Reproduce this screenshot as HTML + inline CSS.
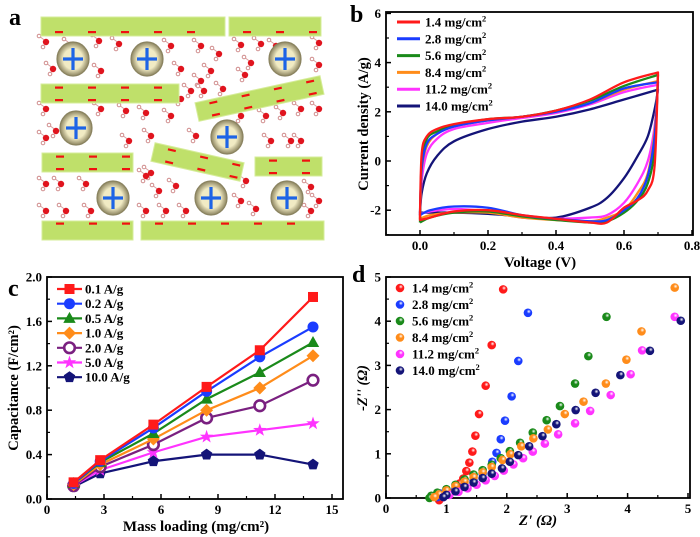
<!DOCTYPE html>
<html><head><meta charset="utf-8"><style>
body{margin:0;background:#fff;}
svg{display:block;font-family:"Liberation Serif",serif;font-weight:bold;}
</style></head><body>
<svg id="fig" width="700" height="537" viewBox="0 0 700 537" xmlns="http://www.w3.org/2000/svg">
<defs>
<radialGradient id="ion" cx="0.5" cy="0.5" r="0.5"><stop offset="0.6" stop-color="#f1ebc4"/><stop offset="1" stop-color="#8c8460"/></radialGradient>
</defs>
<g id="pa"></g>
<g id="pb"></g>
<g id="pc"></g>
<g id="pd"></g>
</svg>
<script>
// ===== Panel b data =====
const cvLabels=["1.4 mg/cm","2.8 mg/cm","5.6 mg/cm","8.4 mg/cm","11.2 mg/cm","14.0 mg/cm"];
const cvColors=["#ff1a1a","#1a3cff","#1a8a1a","#ff8c1a","#ff33ff","#141478"];
const cvVf=[0,0.005,0.02,0.05,0.1,0.2,0.3,0.4,0.5,0.6,0.7];
const cvVr=[0.7,0.69,0.67,0.64,0.6,0.55,0.5,0.4,0.3,0.2,0.1,0.03,0];
const cvF0=[-2.1,0.3,1.0,1.3,1.5,1.7,1.8,2.05,2.5,3.2,3.6];
const cvR0=[3.6,-0.2,-1.2,-1.6,-1.9,-2.5,-2.5,-2.35,-2.2,-2.0,-2.05,-2.3,-2.4];
const cvF1=[-2.1,-0.3,0.7,1.1,1.4,1.65,1.8,2.0,2.35,2.95,3.2];
const cvR1=[3.2,1.0,-0.6,-1.5,-2.0,-2.4,-2.45,-2.35,-2.2,-1.9,-1.85,-2.0,-2.2];
const cvF2=[-2.5,-0.1,0.9,1.2,1.45,1.7,1.8,2.05,2.45,3.05,3.5];
const cvR2=[3.5,0.5,-0.9,-1.6,-2.1,-2.45,-2.5,-2.4,-2.25,-2.05,-2.1,-2.3,-2.5];
const cvF3=[-2.3,-0.4,0.6,1.1,1.4,1.65,1.8,2.0,2.35,2.9,3.25];
const cvR3=[3.25,1.2,-0.5,-1.3,-2.0,-2.3,-2.45,-2.4,-2.3,-2.1,-2.1,-2.2,-2.35];
const cvF4=[-2.2,-0.8,0.3,0.9,1.3,1.55,1.75,1.95,2.3,2.8,3.1];
const cvR4=[3.1,1.4,0,-0.9,-1.7,-2.2,-2.3,-2.35,-2.3,-2.05,-1.95,-2.05,-2.15];
const cvF5=[-2.1,-1.3,-0.5,0.2,0.8,1.3,1.6,1.8,2.1,2.5,2.9];
const cvR5=[2.9,2.1,1.0,0.2,-0.7,-1.5,-1.9,-2.3,-2.25,-2.15,-2.1,-2.1,-2.1];
const cvXTicks=[0.0,0.2,0.4,0.6,0.8];
const cvYTicks=[-2,0,2,4,6];
// ===== Panel c data =====
const capX=[1.4,2.8,5.6,8.4,11.2,14.0];
const capLabels=["0.1 A/g","0.2 A/g","0.5 A/g","1.0  A/g","2.0  A/g","5.0  A/g","10.0 A/g"];
const capColors=["#ff1a1a","#1a3cff","#1a8a1a","#ff8c1a","#7a2080","#ff33ff","#141478"];
const capMarkers=["square","circle","triangle","diamond","ocircle","star","pentagon"];
const cap0=[0.15,0.35,0.67,1.01,1.34,1.82];
const cap1=[0.14,0.34,0.64,0.97,1.28,1.55];
const cap2=[0.14,0.33,0.59,0.90,1.14,1.41];
const cap3=[0.13,0.31,0.54,0.80,1.00,1.29];
const cap4=[0.12,0.29,0.49,0.73,0.84,1.07];
const cap5=[0.12,0.26,0.42,0.56,0.62,0.68];
const cap6=[0.11,0.23,0.34,0.40,0.40,0.31];
const capXTicks=[0,3,6,9,12,15];
const capYTicks=[0.0,0.4,0.8,1.2,1.6,2.0];
// ===== Panel d data =====
const eisLabels=["1.4 mg/cm","2.8 mg/cm","5.6 mg/cm","8.4 mg/cm","11.2 mg/cm","14.0 mg/cm"];
const eisColors=["#ff1a1a","#1a3cff","#1a8a1a","#ff8c1a","#ff33ff","#141478"];
const eisX0=[1.94,1.75,1.65,1.54,1.48,1.43,1.38,1.33,1.28,1.22,1.15,1.05,0.95,0.9,0.88];
const eisY0=[4.72,3.46,2.54,1.90,1.41,1.05,0.80,0.61,0.44,0.33,0.18,0.12,0.07,0.02,-0.05];
const eisX1=[2.35,2.19,2.08,1.97,1.90,1.83,1.76,1.6,1.45,1.3,1.15,1.0,0.9,0.85];
const eisY1=[4.19,3.10,2.30,1.75,1.33,1.02,0.82,0.55,0.4,0.3,0.22,0.15,0.1,0.02];
const eisX2=[3.65,3.35,3.13,2.88,2.66,2.43,2.22,2.05,1.90,1.75,1.6,1.45,1.3,1.15,1.0,0.85,0.75,0.72];
const eisY2=[4.10,3.21,2.59,2.08,1.76,1.48,1.25,1.06,0.90,0.75,0.63,0.53,0.42,0.3,0.2,0.12,0.05,0.0];
const eisX3=[4.78,4.23,3.98,3.64,3.27,2.96,2.68,2.44,2.24,2.06,1.93,1.75,1.6,1.45,1.3,1.15,1.0,0.88,0.8];
const eisY3=[4.76,3.77,3.13,2.59,2.18,1.90,1.55,1.35,1.17,0.99,0.86,0.7,0.58,0.47,0.37,0.27,0.17,0.08,0.02];
const eisX4=[4.78,4.24,4.05,3.72,3.38,3.13,2.85,2.63,2.43,2.27,2.11,1.95,1.8,1.65,1.5,1.35,1.2,1.05,0.95];
const eisY4=[4.10,3.34,2.80,2.33,1.97,1.69,1.44,1.23,1.05,0.90,0.76,0.62,0.5,0.4,0.3,0.22,0.14,0.07,0.02];
const eisX5=[4.88,4.37,3.88,3.47,3.14,2.82,2.59,2.37,2.19,2.05,1.92,1.75,1.6,1.45,1.3,1.15,1.0,0.95];
const eisY5=[4.01,3.33,2.78,2.38,1.99,1.67,1.40,1.17,0.97,0.82,0.67,0.55,0.45,0.35,0.25,0.15,0.07,0.02];
const eisXTicks=[0,1,2,3,4,5];
const eisYTicks=[0,1,2,3,4,5];

const NS="http://www.w3.org/2000/svg";
function mk(parent,tag,attrs,name,txt){const e=document.createElementNS(NS,tag);for(const k in attrs)e.setAttribute(k,attrs[k]);


if(txt!==undefined)e.textContent=txt;parent.appendChild(e);return e;}
function supText(parent,x,y,base,sup,size,anchor,name){const t=mk(parent,'text',{x:x,y:y,'font-size':size,'text-anchor':anchor||'start'},name);
t.appendChild(document.createTextNode(base));const s=document.createElementNS(NS,'tspan');s.setAttribute('font-size',size*0.65);s.setAttribute('dy',-size*0.4);s.textContent=sup;t.appendChild(s);return t;}
function smoothSeg(pts){let d="";for(let i=0;i<pts.length-1;i++){const p0=pts[Math.max(i-1,0)],p1=pts[i],p2=pts[i+1],p3=pts[Math.min(i+2,pts.length-1)];
const c1=[p1[0]+(p2[0]-p0[0])/6,p1[1]+(p2[1]-p0[1])/6],c2=[p2[0]-(p3[0]-p1[0])/6,p2[1]-(p3[1]-p1[1])/6];d+=" C"+c1+" "+c2+" "+p2;}return d;}

// ===== Panel a =====
(function(){
const g=document.getElementById('pa');
mk(g,'text',{x:9,y:25,'font-size':24},'panel-a-label','a');
const waters=[[45,41],[52,68],[70,44],[98,40],[118,43],[100,70],[170,45],[180,68],[200,45],[210,70],[218,53],[240,44],[250,62],[260,43],[275,45],[318,42],[318,64],[190,90],[203,90],[200,80],[222,88],[244,74],[45,108],[55,130],[100,108],[125,110],[145,112],[170,115],[180,98],[195,135],[150,135],[128,140],[45,137],[240,115],[265,115],[282,112],[300,108],[318,108],[270,140],[290,140],[300,140],[150,172],[145,175],[175,185],[158,190],[245,180],[310,186],[45,183],[60,183],[85,183],[45,210],[65,210],[90,210],[145,210],[165,210],[185,210],[240,200],[255,208],[310,210],[318,200]];
waters.forEach(p=>{const w=mk(g,'g',{},'water-molecule');
mk(w,'line',{x1:p[0]-6,y1:p[1]-5,x2:p[0]+2,y2:p[1]+1,stroke:'#d9a0a0','stroke-width':1},'water-bond');
mk(w,'circle',{cx:p[0]-6,cy:p[1]-5,r:1.8,fill:'#fff',stroke:'#d08c8c','stroke-width':1},'hydrogen-atom');
mk(w,'circle',{cx:p[0]-2,cy:p[1]+6,r:1.8,fill:'#fff',stroke:'#d08c8c','stroke-width':1},'hydrogen-atom');
mk(w,'circle',{cx:p[0]+1,cy:p[1]+1,r:3.2,fill:'#e0141e'},'oxygen-atom');});
const bars=[[41,17,184,19,0],[229,17,92,19,0],[41,84,138,19,0],[42,153,91,19,0],[255,157,67,19,0],[42,221,91,19,0],[141,221,183,19,0]];
function dashes(bg,x,y,w,h,rows){rows.forEach(ry=>{for(let dx=14;dx<w-5;dx+=33){mk(bg,'rect',{x:x+dx,y:y+ry,width:8,height:2.2,fill:'#f01010'},'negative-charge');}});}
bars.forEach((b,i)=>{const bg=mk(g,'g',{},'graphene-sheet');mk(bg,'rect',{x:b[0],y:b[1],width:b[2],height:b[3],fill:'#bfe06a',stroke:'#d6ec9a','stroke-width':1},'sheet-body');
dashes(bg,b[0],b[1],b[2],b[3],i<2?[14]:(i>=5?[1.5]:[2.5,15]));});
[[197,112,322,85],[153,152,242,172]].forEach(t=>{const ang=Math.atan2(t[3]-t[1],t[2]-t[0])*180/Math.PI,len=Math.hypot(t[2]-t[0],t[3]-t[1]);
const bg=mk(g,'g',{transform:`translate(${t[0]},${t[1]}) rotate(${ang})`},'tilted-graphene-sheet');
mk(bg,'rect',{x:0,y:-9.5,width:len,height:19,fill:'#bfe06a',stroke:'#d6ec9a','stroke-width':1},'sheet-body');dashes(bg,0,-9.5,len,19,[2.5,15]);});
const ions=[[73,59],[147,59],[285,59],[76,128],[227,137],[113,198],[211,198],[287,198]];
ions.forEach(p=>{const ig=mk(g,'g',{},'cation');mk(ig,'ellipse',{cx:p[0],cy:p[1],rx:16,ry:17,fill:'url(#ion)',stroke:'#8a8360','stroke-width':1.2},'cation-sphere');
mk(ig,'rect',{x:p[0]-10,y:p[1]-1.6,width:20,height:3.2,fill:'#1e64e6'},'plus-h');mk(ig,'rect',{x:p[0]-1.6,y:p[1]-11,width:3.2,height:22,fill:'#1e64e6'},'plus-v');});
})();

function axes(g,L,T,R,B,xt,yt,fx,fy,xfmt,yfmt,xminor,yminor,pre){
mk(g,'rect',{x:L,y:T,width:R-L,height:B-T,fill:'none',stroke:'#000','stroke-width':1.8},pre+'-plot-frame');
xt.forEach(v=>{const x=fx(v);mk(g,'line',{x1:x,y1:B,x2:x,y2:B-5,stroke:'#000','stroke-width':1.5},pre+'-x-tick');
mk(g,'text',{x:x,y:B+15,'font-size':13,'text-anchor':'middle'},pre+'-x-tick-label',xfmt(v));});
xminor.forEach(v=>{const x=fx(v);mk(g,'line',{x1:x,y1:B,x2:x,y2:B-3,stroke:'#000','stroke-width':1.2},pre+'-x-minor-tick');});
yt.forEach(v=>{const y=fy(v);mk(g,'line',{x1:L,y1:y,x2:L+5,y2:y,stroke:'#000','stroke-width':1.5},pre+'-y-tick');
mk(g,'text',{x:L-5,y:y+4.5,'font-size':13,'text-anchor':'end'},pre+'-y-tick-label',yfmt(v));});
yminor.forEach(v=>{const y=fy(v);mk(g,'line',{x1:L,y1:y,x2:L+3,y2:y,stroke:'#000','stroke-width':1.2},pre+'-y-minor-tick');});
}

// ===== Panel b =====
(function(){
const g=document.getElementById('pb');
const L=386,R=693,T=12,B=235;const fx=v=>420+v*340,fy=v=>161-v*24.6;
mk(g,'text',{x:350,y:22,'font-size':24},'panel-b-label','b');
axes(g,L,T,R,B,cvXTicks,cvYTicks,fx,fy,v=>v.toFixed(1),v=>String(v),[-0.1,0.1,0.3,0.5,0.7],[-3,-1,1,3,5],'cv');
const F=[cvF0,cvF1,cvF2,cvF3,cvF4,cvF5],Rr=[cvR0,cvR1,cvR2,cvR3,cvR4,cvR5];
for(let s=5;s>=0;s--){const pf=cvVf.map((v,i)=>[fx(v),fy(F[s][i])]);const pr=cvVr.map((v,i)=>[fx(v),fy(Rr[s][i])]);
const d="M"+pf[0]+smoothSeg(pf)+smoothSeg(pr)+" L"+pf[0];
mk(g,'path',{d:d,fill:'none',stroke:cvColors[s],'stroke-width':2.3,'stroke-linejoin':'round'},'cv-curve-'+cvLabels[s].split(' ')[0]);}
cvLabels.forEach((l,i)=>{const y=22+i*16.8;mk(g,'line',{x1:397,y1:y,x2:420,y2:y,stroke:cvColors[i],'stroke-width':3},'legend-line');
supText(g,425,y+4.5,l,'2',13,'start','legend-entry');});
mk(g,'text',{x:0,y:0,'font-size':14.5,'text-anchor':'middle',transform:'translate(368,124) rotate(-90)'},'y-axis-title','Current density (A/g)');
mk(g,'text',{x:540,y:267,'font-size':15,'text-anchor':'middle'},'x-axis-title','Voltage (V)');
})();

// ===== Panel c =====
(function(){
const g=document.getElementById('pc');
const L=47,R=343,T=277,B=499;const fx=v=>47+v*19,fy=v=>499-v*111;
mk(g,'text',{x:8,y:296,'font-size':24},'panel-c-label','c');
axes(g,L,T,R,B,capXTicks,capYTicks,fx,fy,v=>String(v),v=>v.toFixed(1),[1.5,4.5,7.5,10.5,13.5],[0.2,0.6,1.0,1.4,1.8],'cap');
const S=[cap0,cap1,cap2,cap3,cap4,cap5,cap6];
function marker(par,type,x,y,c){const r=5;
if(type==='square')mk(par,'rect',{x:x-r,y:y-r,width:2*r,height:2*r,fill:c},'marker');
else if(type==='circle')mk(par,'circle',{cx:x,cy:y,r:r+0.5,fill:c},'marker');
else if(type==='ocircle'){mk(par,'circle',{cx:x,cy:y,r:r+0.3,fill:'#fff',stroke:c,'stroke-width':2.6},'marker');}
else if(type==='triangle')mk(par,'polygon',{points:`${x},${y-6.5} ${x-6.2},${y+4.5} ${x+6.2},${y+4.5}`,fill:c},'marker');
else if(type==='diamond')mk(par,'polygon',{points:`${x},${y-6.5} ${x+6.5},${y} ${x},${y+6.5} ${x-6.5},${y}`,fill:c},'marker');
else if(type==='star'){let p=[];for(let k=0;k<10;k++){const a=-Math.PI/2+k*Math.PI/5,rr=k%2?2.8:7;p.push((x+rr*Math.cos(a)).toFixed(1)+','+(y+rr*Math.sin(a)).toFixed(1));}mk(par,'polygon',{points:p.join(' '),fill:c},'marker');}
else if(type==='pentagon'){let p=[];for(let k=0;k<5;k++){const a=-Math.PI/2+k*2*Math.PI/5;p.push((x+6*Math.cos(a)).toFixed(1)+','+(y+6*Math.sin(a)).toFixed(1));}mk(par,'polygon',{points:p.join(' '),fill:c},'marker');}}
for(let s=6;s>=0;s--){const sg=mk(g,'g',{},'series-'+capLabels[s].replace(/\s+/g,'-'));
mk(sg,'polyline',{points:capX.map((x,i)=>fx(x)+','+fy(S[s][i])).join(' '),fill:'none',stroke:capColors[s],'stroke-width':2.2},'series-line');
capX.forEach((x,i)=>marker(sg,capMarkers[s],fx(x),fy(S[s][i]),capColors[s]));}
capLabels.forEach((l,i)=>{const y=289+i*14.7;mk(g,'line',{x1:57,y1:y,x2:82,y2:y,stroke:capColors[i],'stroke-width':2.2},'legend-line');
marker(g,capMarkers[i],69.5,y,capColors[i]);mk(g,'text',{x:85,y:y+4.5,'font-size':13},'legend-entry',l);});
mk(g,'text',{x:0,y:0,'font-size':14.5,'text-anchor':'middle',transform:'translate(18,388) rotate(-90)'},'y-axis-title','Capacitance (F/cm\u00B2)');
mk(g,'text',{x:196,y:531,'font-size':15,'text-anchor':'middle'},'x-axis-title','Mass loading (mg/cm\u00B2)');
})();

// ===== Panel d =====
(function(){
const g=document.getElementById('pd');
const L=386,R=690,T=277,B=498;const fx=v=>386+v*60.4,fy=v=>498-v*44.2;
const defs=document.querySelector('defs');
eisColors.forEach((c,i)=>{const rg=mk(defs,'radialGradient',{id:'sph'+i,cx:'0.6',cy:'0.35',r:'0.7'},'sphere-gradient');
mk(rg,'stop',{offset:'0','stop-color':'#fff'},'stop');mk(rg,'stop',{offset:'0.35','stop-color':c},'stop');mk(rg,'stop',{offset:'1','stop-color':c},'stop');});
mk(g,'text',{x:352,y:282,'font-size':24},'panel-d-label','d');
axes(g,L,T,R,B,eisXTicks,eisYTicks,fx,fy,v=>String(v),v=>String(v),[0.5,1.5,2.5,3.5,4.5],[0.5,1.5,2.5,3.5,4.5],'eis');
const X=[eisX0,eisX1,eisX2,eisX3,eisX4,eisX5],Y=[eisY0,eisY1,eisY2,eisY3,eisY4,eisY5];
for(let s=0;s<6;s++){const sg=mk(g,'g',{},'series-'+eisLabels[s].split(' ')[0]);
X[s].forEach((x,i)=>mk(sg,'circle',{cx:fx(x),cy:fy(Y[s][i]),r:4.3,fill:`url(#sph${s})`},'data-point'));}
eisLabels.forEach((l,i)=>{const y=288+i*16.5;mk(g,'circle',{cx:400,cy:y,r:4.3,fill:`url(#sph${i})`},'legend-marker');
supText(g,412,y+4.5,l,'2',13,'start','legend-entry');});
mk(g,'text',{x:0,y:0,'font-size':14.5,'text-anchor':'middle','font-style':'italic',transform:'translate(367,388) rotate(-90)'},'y-axis-title',"-Z'' (\u03A9)");
mk(g,'text',{x:538,y:525,'font-size':15,'text-anchor':'middle','font-style':'italic'},'x-axis-title',"Z' (\u03A9)");
})();
</script>
</body></html>
